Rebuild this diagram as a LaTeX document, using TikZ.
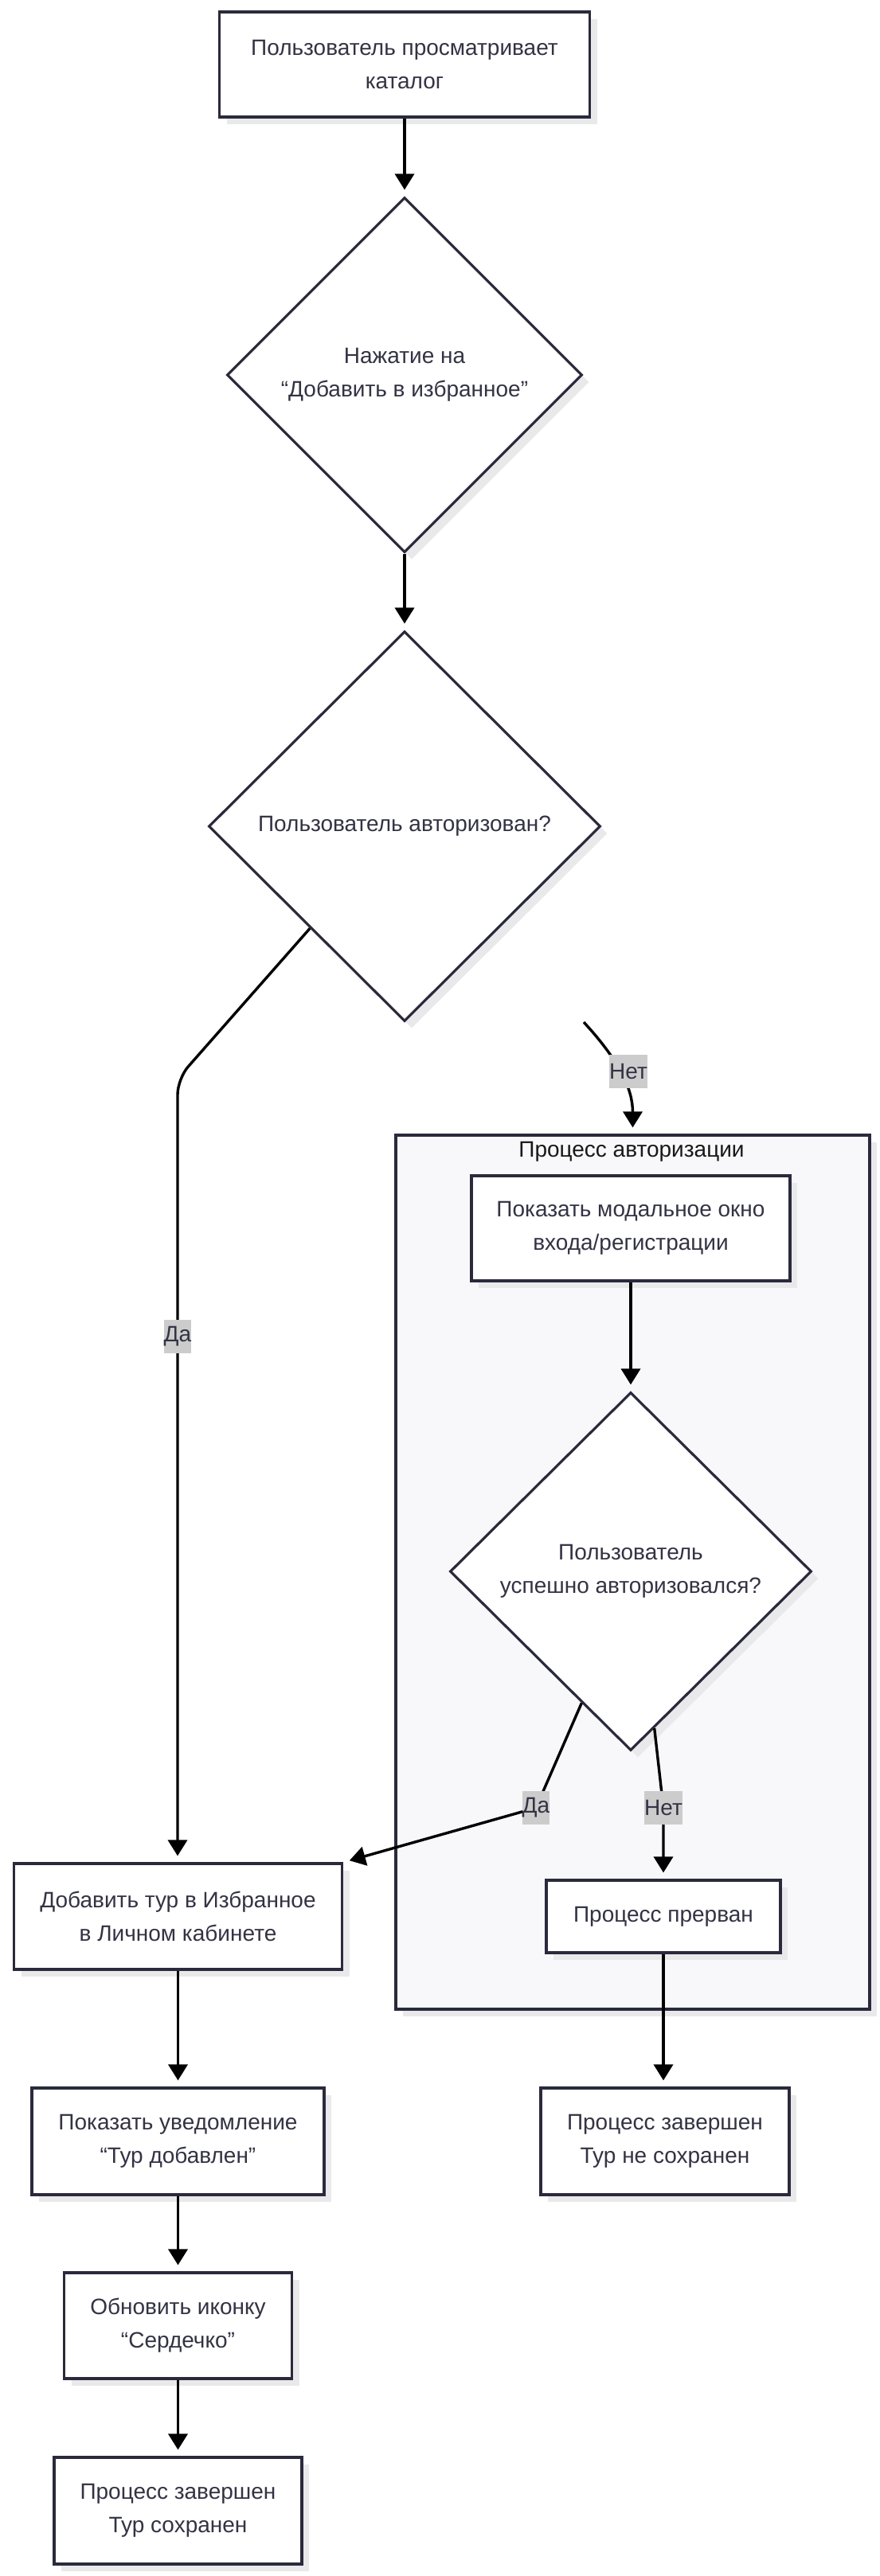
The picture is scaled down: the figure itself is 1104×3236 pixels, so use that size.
\documentclass[tikz,border=0pt]{standalone}
\usepackage{fontspec}
\setmainfont{Liberation Sans}
\usetikzlibrary{shapes.geometric,arrows.meta,shadows,calc}
\definecolor{strk}{HTML}{2A2A3C}
\definecolor{txt}{HTML}{333344}
\definecolor{clfill}{HTML}{F8F8FA}
\definecolor{shd}{HTML}{E9E9EC}
\definecolor{lblbg}{HTML}{CCCCCC}
\tikzset{
  fnt/.style={font=\fontsize{14pt}{21pt}\selectfont},
  base/.style={draw=strk, line width=1.6pt, fill=white, text=txt, fnt, align=center,
    inner sep=0pt, drop shadow={shadow xshift=4.5pt, shadow yshift=-4.5pt, fill=shd, opacity=1}},
  box/.style={base, rectangle},
  dia/.style={base, diamond},
  edge/.style={draw=black, line width=1.7pt, -{Triangle[length=10pt,width=12pt]}, shorten >=4pt},
  lbl/.style={fill=lblbg, text=txt, fnt, inner xsep=0pt, inner ysep=0pt, minimum height=21pt},
  cluster/.style={draw=strk, line width=1.6pt, fill=clfill, rectangle, inner sep=0pt,
    drop shadow={shadow xshift=4.5pt, shadow yshift=-4.5pt, fill=shd, opacity=1}},
  cltitle/.style={text=black!90, fnt, inner sep=0pt}
}
\begin{document}
\begin{tikzpicture}[x=0.5pt, y=-0.5pt]
\useasboundingbox (0,0) rectangle (1104,3236);
% cluster
\node[cluster, minimum width=297.5pt, minimum height=549pt] (cl) at (794.5,1975) {};
\node[cltitle] (clt) at (793,1447) {Процесс авторизации};
% nodes
\node[box, minimum width=232.5pt, minimum height=66pt] (n1) at (508,81) {Пользователь просматривает\\каталог};
\node[dia, minimum width=223pt, minimum height=223pt] (d1) at (508,471) {Нажатие на\\“Добавить в избранное”};
\node[dia, minimum width=246pt, minimum height=245pt] (d2) at (508,1038) {Пользователь авторизован?};
\node[box, minimum width=200pt, minimum height=66pt] (n3) at (792,1543) {Показать модальное окно\\входа/регистрации};
\node[dia, minimum width=227pt, minimum height=225pt] (d3) at (792,1974) {Пользователь\\успешно авторизовался?};
\node[box, minimum width=206pt, minimum height=66.5pt] (n4) at (223.5,2407.5) {Добавить тур в Избранное\\в Личном кабинете};
\node[box, minimum width=147pt, minimum height=45.5pt] (n5) at (833,2407.5) {Процесс прерван};
\node[box, minimum width=183.5pt, minimum height=67pt] (n6) at (223.5,2690) {Показать уведомление\\“Тур добавлен”};
\node[box, minimum width=156pt, minimum height=67pt] (n7) at (835,2690) {Процесс завершен\\Тур не сохранен};
\node[box, minimum width=143pt, minimum height=66.5pt] (n8) at (223.5,2921.5) {Обновить иконку\\“Сердечко”};
\node[box, minimum width=155.5pt, minimum height=67pt] (n9) at (223.5,3154) {Процесс завершен\\Тур сохранен};
% helper coordinates
\coordinate (c1) at (223,1355);
\coordinate (ns) at (733,1284);
\coordinate (pda2) at (673,2271);
\coordinate (pnet2) at (833,2271);
% edges
\draw[edge] (n1.south) -- (n1.south |- d1.north);
\draw[edge] (d1.south) -- (d2.north);
\draw[edge, rounded corners=10pt] ($(d2.west)!0.52!(d2.south)$) -- (c1) -- (c1 |- n4.north);
\draw[edge] (ns) .. controls (780,1335) and (794.5,1370) .. (cl.north);
\draw[edge] (n3.south) -- (d3.north);
\draw[edge] ($(d3.west)!0.73!(d3.south)$) -- (pda2) -- (n4.north east);
\draw[edge] ($(d3.south)!0.13!(d3.east)$) -- (pnet2) -- (pnet2 |- n5.north);
\draw[edge] (n5.south) -- (n5.south |- n7.north);
\draw[edge] (n4.south) -- (n6.north);
\draw[edge] (n6.south) -- (n8.north);
\draw[edge] (n8.south) -- (n9.north);
% labels
\node[lbl] (lda1) at (223,1679) {Да};
\node[lbl] (lnet1) at (789,1346) {Нет};
\node[lbl] (lda2) at (pda2) {Да};
\node[lbl] (lnet2) at (pnet2) {Нет};
\end{tikzpicture}
\end{document}
